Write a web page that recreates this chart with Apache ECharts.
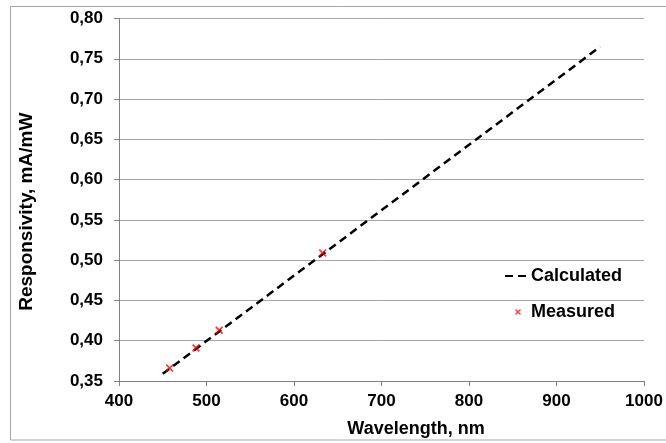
<!DOCTYPE html>
<html>
<head>
<meta charset="utf-8">
<script src="https://cdn.jsdelivr.net/npm/echarts@6/dist/echarts.min.js"></script>
<style>
html, body { margin: 0; padding: 0; background: #fff; }
#main { width: 666px; height: 443px; }
</style>
</head>
<body>
<div id="main"></div>
<script>
// calculated responsivity (straight dashed line)
var calcWavelength = [450, 950];
var calcResponsivity = [0.359, 0.765];
// measured points (laser lines)
var measWavelength = [457.9, 488, 514.5, 632.8];
var measResponsivity = [0.366, 0.391, 0.413, 0.509];

var xTicks = [400, 500, 600, 700, 800, 900, 1000];
var yTicks = [0.35, 0.40, 0.45, 0.50, 0.55, 0.60, 0.65, 0.70, 0.75, 0.80];

var font = '"Liberation Sans", Arial, sans-serif';
var crossPath = 'path://M0,1.5L1.5,0L5,3.5L8.5,0L10,1.5L6.5,5L10,8.5L8.5,10L5,6.5L1.5,10L0,8.5L3.5,5Z';
var dashPath = 'path://M0,0H8V2H0ZM13,0H21V2H13Z';

var calcData = calcWavelength.map(function (x, i) { return [x, calcResponsivity[i]]; });
var measData = measWavelength.map(function (x, i) { return [x, measResponsivity[i]]; });

var myChart = echarts.init(document.getElementById('main'));

var option = {
	backgroundColor: '#fff',
	animation: false,
	graphic: [{
		type: 'rect',
		shape: { x: 10.5, y: 6.5, width: 700, height: 433.5 },
		style: { fill: 'none', stroke: '#a6a6a6', lineWidth: 1 },
		silent: true
	}],
	grid: {
		left: 119,
		right: 22,
		top: 18.5,
		bottom: 61.5
	},
	legend: [{
		data: [{ name: 'Calculated', icon: dashPath }],
		left: 500,
		top: 262,
		itemWidth: 21,
		itemHeight: 14,
		lineStyle: { width: 0 },
		itemStyle: { color: '#000' },
		textStyle: { fontFamily: font, fontWeight: 'bold', fontSize: 18, color: '#000' }
	}, {
		data: ['Measured'],
		left: 510,
		top: 298,
		itemWidth: 16,
		itemHeight: 6,
		textStyle: { fontFamily: font, fontWeight: 'bold', fontSize: 18, color: '#000' }
	}],
	xAxis: {
		type: 'value',
		min: xTicks[0],
		max: xTicks[xTicks.length - 1],
		interval: 100,
		name: 'Wavelength, nm',
		nameLocation: 'middle',
		nameGap: 39,
		nameTextStyle: { fontFamily: font, fontWeight: 'bold', fontSize: 18, color: '#000', padding: [0, 0, 0, 69] },
		axisLine: { lineStyle: { color: '#808080', width: 1 } },
		axisTick: { show: true, length: 5, inside: false, lineStyle: { color: '#808080' } },
		axisLabel: {
			fontFamily: font, fontWeight: 'bold', fontSize: 17, color: '#000', margin: 12,
			formatter: function (v) { return String(v); }
		},
		splitLine: { show: false }
	},
	yAxis: {
		type: 'value',
		min: yTicks[0],
		max: yTicks[yTicks.length - 1],
		interval: 0.05,
		name: 'Responsivity, mA/mW',
		nameLocation: 'middle',
		nameGap: 83,
		nameTextStyle: { fontFamily: font, fontWeight: 'bold', fontSize: 19, color: '#000', padding: [0, 24, 0, 0] },
		axisLine: { show: true, lineStyle: { color: '#808080', width: 1 } },
		axisTick: { show: true, length: 5, inside: false, lineStyle: { color: '#808080' } },
		axisLabel: {
			fontFamily: font, fontWeight: 'bold', fontSize: 17, color: '#000', margin: 16,
			formatter: function (v) { return v.toFixed(2).replace('.', ','); }
		},
		splitLine: { show: true, lineStyle: { color: '#a6a6a6', width: 1 } }
	},
	series: [{
		name: 'Calculated',
		type: 'line',
		symbol: 'none',
		lineStyle: { color: '#000', width: 2.5, type: [8, 5] },
		itemStyle: { color: '#000' },
		data: calcData,
		z: 2
	}, {
		name: 'Measured',
		type: 'scatter',
		symbol: crossPath,
		symbolSize: 8,
		itemStyle: { color: '#ff0000' },
		data: measData,
		z: 3
	}]
};

myChart.setOption(option);
window.addEventListener("resize", function () {
	myChart.resize();
});
</script>
</body>
</html>
